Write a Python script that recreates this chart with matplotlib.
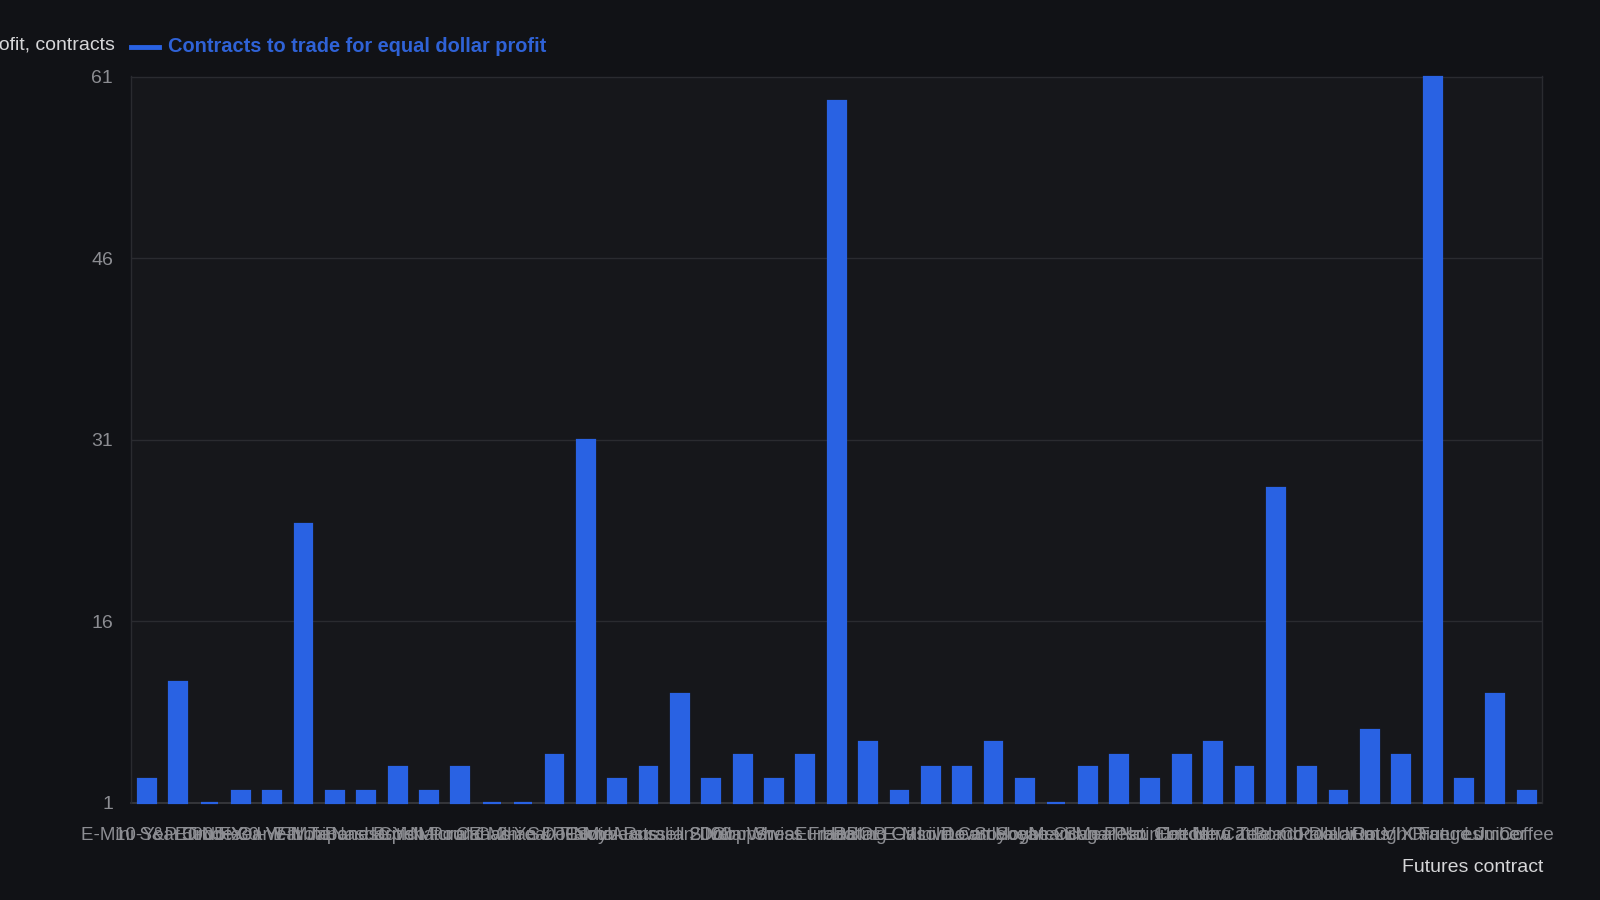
import numpy as np
import matplotlib
matplotlib.use('Agg')
import matplotlib.pyplot as plt
from matplotlib.lines import Line2D

plt.rcParams['font.family'] = ['Liberation Sans', 'DejaVu Sans']

# Futures contracts on the x axis (labels overlap in the original too)
contracts = [
    'E-Mini S&P 500', '10-Year T-Note', 'Euro FX', 'Crude Oil WTI', '5-Year T-Note',
    '30-Year T-Bond', 'E-Mini Nasdaq', 'Japanese Yen', 'Gold', 'British Pound',
    'Natural Gas', 'Micro E-Mini S&P', 'Canadian Dollar', '2-Year T-Note', 'Corn',
    'Soybeans', 'E-Mini Russell 2000', 'Australian Dollar', 'Silver', 'Copper',
    'Wheat', 'Swiss Franc', 'Eurodollar', 'Heating Oil', 'RBOB Gasoline',
    'E-Mini Dow', 'Live Cattle', 'Lean Hogs', 'Soybean Oil', 'Soybean Meal',
    'Mexican Peso', 'Sugar No. 11', 'Platinum', 'Cotton', 'Feeder Cattle',
    'Ultra T-Bond', 'New Zealand Dollar', 'Cocoa', 'Palladium', 'Oats',
    'Rough Rice', 'VIX Futures', 'Orange Juice', 'Lumber', 'Coffee',
]
contracts_to_trade = [
    3, 11, 1, 2, 2, 24, 2, 2, 4, 2,
    4, 1, 1, 5, 31, 3, 4, 10, 3, 5,
    3, 5, 59, 6, 2, 4, 4, 6, 3, 1,
    4, 5, 3, 5, 6, 4, 27, 4, 2, 7,
    5, 61, 3, 10, 2,
]
y_ticks = [1, 16, 31, 46, 61]

BG = '#111216'
PLOT_BG = '#16171b'
BAR = '#2962e3'
GRID = '#2a2b30'
TICK = '#8c8d92'

fig = plt.figure(figsize=(16, 9), dpi=100, facecolor=BG)
ax = fig.add_axes([0.0819, 0.1078, 0.964 - 0.0819, 0.915 - 0.1078])
ax.set_facecolor(PLOT_BG)

x = np.arange(len(contracts))
vals = np.array(contracts_to_trade, dtype=float)
# bars start at the axis minimum; a value of 1 shows as a thin dash on the baseline
ax.bar(x, vals - 1, bottom=1, width=0.57, color=BAR, edgecolor=BAR, linewidth=1.6,
       zorder=3, clip_on=False)

ax.set_xlim(-0.5, len(contracts) - 0.5)
ax.set_ylim(1, 61)
ax.set_yticks(y_ticks)
ax.set_yticklabels([str(t) for t in y_ticks])
ax.set_xticks(x)
ax.set_xticklabels(contracts)

ax.grid(axis='y', color=GRID, linewidth=1, zorder=0)
ax.tick_params(axis='y', length=0, pad=13, labelsize=14, labelcolor=TICK)
ax.tick_params(axis='x', length=0, pad=17, labelsize=13.5, labelcolor=TICK)

for side in ['top', 'right', 'left']:
    ax.spines[side].set_color(GRID)
    ax.spines[side].set_linewidth(1)
ax.spines['bottom'].set_color('#3a3b40')
ax.spines['bottom'].set_linewidth(1.2)
ax.spines['bottom'].set_zorder(2)

# axis titles
fig.text(1543 / 1600, 1 - 867 / 900, 'Futures contract', ha='right', va='center',
         fontsize=14, color='#d6d6d8')
fig.text(115 / 1600, 1 - 45 / 900, 'Equal dollar profit, contracts', ha='right', va='center',
         fontsize=14, color='#d6d6d8')

# legend
fig.add_artist(Line2D([131 / 1600, 159 / 1600], [1 - 47 / 900, 1 - 47 / 900],
                      color=BAR, linewidth=3.5, transform=fig.transFigure))
fig.text(168 / 1600, 1 - 47 / 900, 'Contracts to trade for equal dollar profit', ha='left',
         va='center', fontsize=14.4, fontweight='bold', color='#2f62d6')

plt.savefig('out.png', dpi=100, facecolor=BG)
